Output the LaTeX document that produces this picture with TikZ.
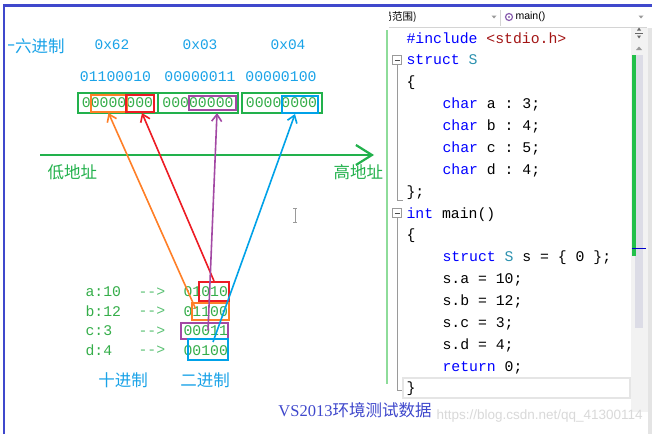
\documentclass[tikz,border=0pt]{standalone}
\usepackage{fontspec}
\setmainfont{Liberation Serif}
\setsansfont{Liberation Sans}
\setmonofont{Liberation Mono}
\newfontfamily\cjk{Noto Sans CJK SC}
\usetikzlibrary{arrows.meta, positioning, calc}
\definecolor{cframe}{HTML}{3F48CC}
\definecolor{chex}{HTML}{1AA3E8}
\definecolor{cgreen}{HTML}{22B14C}
\definecolor{cdigit}{HTML}{35AE4A}
\definecolor{cdash}{HTML}{5CC275}
\definecolor{corange}{HTML}{FF7F27}
\definecolor{cred}{HTML}{ED1C24}
\definecolor{cpurple}{HTML}{A349A4}
\definecolor{cblue}{HTML}{00A2E8}
\definecolor{ckey}{HTML}{0000FF}
\definecolor{ctype}{HTML}{2B91AF}
\definecolor{cstr}{HTML}{A31515}
\definecolor{cmark}{HTML}{8EDC9A}
\definecolor{cgrey}{HTML}{9A9A9A}
\definecolor{cline}{HTML}{D4D4D4}
\definecolor{cpanel}{HTML}{F2F2F2}
\definecolor{cstrip}{HTML}{E4E4E4}
\definecolor{ctrack}{HTML}{DCDCE6}
\definecolor{cbar}{HTML}{22C04A}
\definecolor{cgear}{HTML}{8A5FB0}
\definecolor{cwater}{HTML}{D9D9D9}
\tikzset{
  every picture/.style={line width=1pt},
  hexlbl/.style={font=\ttfamily\fontsize{14.5}{15}\selectfont, text=chex, inner sep=0pt},
  binlbl/.style={font=\ttfamily\fontsize{14.8}{15}\selectfont, text=chex, inner sep=0pt},
  byte/.style={draw=cgreen, line width=2pt, text=cdigit, font=\ttfamily\fontsize{14.8}{15}\selectfont,
    minimum width=80pt, minimum height=20pt, inner sep=0pt},
  fld/.style={draw=#1, line width=2pt, inner sep=0pt},
  cjklbl/.style={font=\cjk\fontsize{16.5}{17}\selectfont, inner sep=0pt},
  val/.style={font=\ttfamily\fontsize{14.8}{15}\selectfont, text=cdigit, inner sep=0pt, anchor=west},
  code/.style={font=\ttfamily\fontsize{14.8}{15}\selectfont, anchor=base west, inner sep=0pt},
  navtext/.style={font=\cjk\fontsize{10.5}{11}\selectfont, inner sep=0pt, anchor=west},
  link/.style={draw=#1, line width=1.6pt, -{Straight Barb[length=7pt, width=10pt]}},
  axis/.style={draw=cgreen, line width=2.2pt, -{Straight Barb[length=16pt, width=20pt]}},
}
\begin{document}
\begin{tikzpicture}[x=1pt, y=-1pt]
  \useasboundingbox (0,0) rectangle (652,434);
  \fill[white] (0,0) rectangle (652,434);

  % editor: navigation bar
  \begin{scope}
    \clip (389,8) rectangle (490,27);
    \node[navtext] (scopebox) at (381,17) {局范围)};
  \end{scope}
  \fill[cgrey] (491.5,15.5) -- (496.5,15.5) -- (494,18.5) -- cycle;
  \draw[cline] (500.5,10) -- (500.5,26);
  \draw[cgear, line width=1.2pt] (509,17) circle (3.5);
  \fill[cgear] (509,17) circle (1.2);
  \node[navtext, font=\sffamily\fontsize{10.5}{11}\selectfont] (fn) at (515,17) {main()};
  \fill[cgrey] (638.5,15.5) -- (643.5,15.5) -- (641,18.5) -- cycle;
  \draw[cline] (389,27) -- (647,27);

  % editor: scroll bar
  \fill[cpanel] (631,28) rectangle (648,412);
  \fill[cstrip] (648,28) rectangle (652,434);
  \fill[ctrack] (635,55) rectangle (643,328);
  \fill[cbar] (632,55) rectangle (636,256);
  \draw[ckey!80!black] (632,248) -- (646,248);
  \draw[black!60] (635,33) -- (643,33);
  \fill[black!60] (639,27.5) -- (637,30.5) -- (641,30.5) -- cycle;
  \fill[black!60] (639,38.5) -- (637,35.5) -- (641,35.5) -- cycle;
  \fill[cgrey] (636,50) -- (642,50) -- (639,46.5) -- cycle;

  % editor: margins
  \draw[cmark, line width=1.5pt] (387,30) -- (387,384);
  \draw[cgrey] (392.5,55.5) rectangle (401.5,64.5);
  \draw[black!70] (394.5,60) -- (399.5,60);
  \draw[cgrey] (397,64.5) -- (397,200) -- (403,200);
  \draw[cgrey] (392.5,208.5) rectangle (401.5,217.5);
  \draw[black!70] (394.5,213) -- (399.5,213);
  \draw[cgrey] (397,217.5) -- (397,390) -- (403,390);
  \draw[black!10, line width=1.5pt] (403,378) rectangle (630,398);

  % editor: source
  \node[code] (c0) at (406,43) {{\color{ckey}\#include} {\color{cstr}<stdio.h>}};
  \node[code] (c1) at (406,64.9) {{\color{ckey}struct} {\color{ctype}S}};
  \node[code] (c2) at (406,86.7) {\{};
  \foreach \fname/\fbits [count=\k from 3] in {a/3, b/4, c/5, d/4}
    \node[code] (c\k) at (442,{43+21.87*\k}) {{\color{ckey}char} \fname{} : \fbits;};
  \node[code] (c7) at (406,196.1) {\};};
  \node[code] (c8) at (406,218) {{\color{ckey}int} main()};
  \node[code] (c9) at (406,239.8) {\{};
  \node[code] (c10) at (442,261.7) {{\color{ckey}struct} {\color{ctype}S} s = \{ 0 \};};
  \foreach \fname/\fval [count=\k from 11] in {a/10, b/12, c/3, d/4}
    \node[code] (c\k) at (442,{43+21.87*\k}) {s.\fname{} = \fval;};
  \node[code] (c15) at (442,371) {{\color{ckey}return} 0;};
  \node[code] (c16) at (406,392.9) {\}};

  % memory layout
  \begin{scope}
    \clip (8,30) rectangle (90,60);
    \node[cjklbl, text=chex, anchor=west] (hexname) at (-2,46) {十六进制};
  \end{scope}
  \node[hexlbl] (hexa) at (112,45) {0x62};
  \node[hexlbl] (hexb) at (200,45) {0x03};
  \node[hexlbl] (hexc) at (288,45) {0x04};
  \node[binlbl] (bina) at (115.5,77) {01100010};
  \node[binlbl] (binb) at (200,77) {00000011};
  \node[binlbl] (binc) at (281,77) {00000100};
  \node[byte] (byte1) at (117.5,103) {00000000};
  \node[byte] (byte2) at (198,103) {00000000};
  \node[byte] (byte3) at (281.5,103) {00000000};
  \node[fld=corange, minimum width=36pt, minimum height=17pt] (topb) at (108.5,103.5) {};
  \node[fld=cred, minimum width=28pt, minimum height=17pt] (topa) at (140,103.5) {};
  \node[fld=cpurple, minimum width=47pt, minimum height=14pt] (topc) at (212,103) {};
  \node[fld=cblue, minimum width=36pt, minimum height=17pt] (topd) at (300,104.5) {};

  % address axis
  \coordinate (lo) at (40,155);
  \coordinate (hi) at (374,155);
  \draw[axis] (lo) -- (hi);
  \node[cjklbl, text=cgreen, anchor=west] (lolbl) at (47,172) {低地址};
  \node[cjklbl, text=cgreen, anchor=west] (hilbl) at (333,172) {高地址};

  % field values
  \foreach \fname/\dec/\bin [count=\k from 0] in {a/10/01010, b/12/01100, c/3/00011, d/4/00100} {
    \node[val] (dec\fname) at (85,{292+19.5*\k}) {\fname:\dec};
    \node[val, text=cdash] (to\fname) at (138,{292+19.5*\k}) {-{}-{}>};
    \node[val] (bin\fname) at (183,{292+19.5*\k}) {\bin};
  }
  \node[fld=cred, minimum width=30pt, minimum height=19pt] (bota) at (214,291.5) {};
  \node[fld=corange, minimum width=37pt, minimum height=17pt] (botb) at (210,311) {};
  \node[fld=cpurple, minimum width=47pt, minimum height=16pt] (botc) at (204,330.5) {};
  \node[fld=cblue, minimum width=40pt, minimum height=21pt] (botd) at (208,349.5) {};
  \node[cjklbl, text=chex] (declbl) at (123,380) {十进制};
  \node[cjklbl, text=chex] (binlbl) at (205,380) {二进制};

  % bit fields to bytes
  \draw[link=corange] ([xshift=5pt, yshift=-7pt]botb.north west) -- (topb.south);
  \draw[link=cred] (bota.north) -- ([xshift=2pt]topa.south);
  \draw[link=cpurple] ([xshift=4pt]botc.center) -- ([xshift=5pt, yshift=-2pt]topc.south);
  \draw[link=cblue] ([xshift=5pt, yshift=-4pt]botd.north) -- ([xshift=-5pt]topd.south);

  % text cursor
  \draw[cgrey] (295,208) -- (295,222) (293,208) -- (297,208) (293,222) -- (297,222);

  % caption and watermark
  \node[inner sep=0pt, text=cframe] (caption) at (355,410)
    {\fontsize{16.5}{17}\selectfont VS2013{\cjk 环境测试数据}};
  \node[inner sep=0pt, anchor=west, text=cwater, font=\sffamily\fontsize{13.5}{14}\selectfont] (mark) at (436,416)
    {https://blog.csdn.net/qq\_41300114};

  % frame
  \draw[cframe, line width=2.5pt] (4,434) -- (4,5.5) -- (652,5.5);
\end{tikzpicture}
\end{document}
